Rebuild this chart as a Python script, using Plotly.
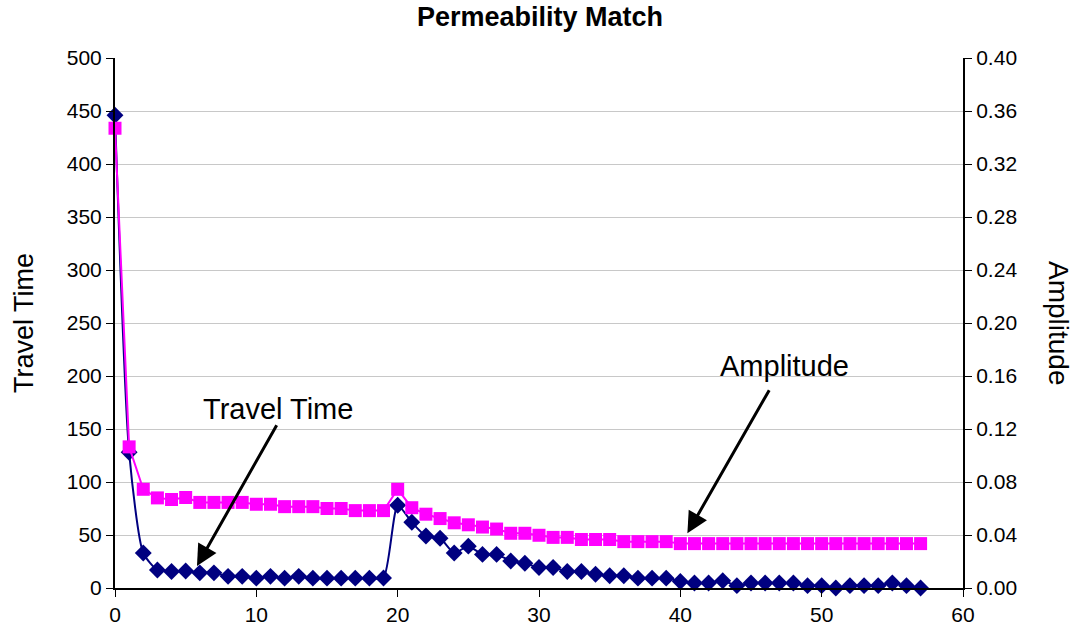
import plotly.graph_objects as go

x_vals = list(range(58))
travel_time = [446, 128, 33, 17, 15.5, 16, 14.3, 14.3, 11, 11,
               9.3, 11, 9.3, 11, 9.3, 9.3, 9.3, 9.3, 9.3, 9.5,
               78, 62, 49, 47, 33, 39.5, 31.7, 31.7, 25.5, 23.3,
               19.3, 19.3, 15.5, 15.5, 13, 11.5, 11.5, 9.3, 9.3, 9.3,
               6.2, 4.7, 4.7, 6.8, 2.2, 4.7, 4.7, 4.7, 4.7, 2.2,
               2.2, 0, 2.2, 2.2, 2.2, 4.7, 2.2, 0]
amplitude = [0.347, 0.1065, 0.0745, 0.068, 0.0668, 0.0683, 0.0646, 0.0646, 0.0646, 0.0646,
             0.0632, 0.0632, 0.0614, 0.0614, 0.0614, 0.060, 0.060, 0.0584, 0.0584, 0.0584,
             0.0745, 0.0606, 0.0557, 0.0524, 0.0492, 0.0477, 0.046, 0.0445, 0.0413, 0.0413,
             0.0398, 0.0382, 0.0382, 0.0366, 0.0366, 0.0366, 0.035, 0.035, 0.035, 0.035,
             0.0335, 0.0335, 0.0335, 0.0335, 0.0335, 0.0335, 0.0335, 0.0335, 0.0335, 0.0335,
             0.0335, 0.0335, 0.0335, 0.0335, 0.0335, 0.0335, 0.0335, 0.0335]

left_ticks = list(range(0, 501, 50))
right_ticks = [0.0, 0.04, 0.08, 0.12, 0.16, 0.20, 0.24, 0.28, 0.32, 0.36, 0.40]
x_ticks = list(range(0, 61, 10))

FONT = "Liberation Sans, Arial, sans-serif"

fig = go.Figure()
fig.add_trace(go.Scatter(
    x=x_vals, y=amplitude, yaxis="y2", mode="lines+markers",
    line=dict(color="#FF00FF", width=2),
    marker=dict(symbol="square", size=13, color="#FF00FF"),
    cliponaxis=False, name="Amplitude", showlegend=False))
fig.add_trace(go.Scatter(
    x=x_vals, y=travel_time, mode="lines+markers",
    line=dict(color="#000080", width=2, shape="spline", smoothing=0.6),
    marker=dict(symbol="diamond", size=13, color="#000080"),
    cliponaxis=False, name="Travel Time", showlegend=False))

fig.update_layout(
    width=1080, height=638,
    margin=dict(l=115, r=117, t=58, b=48),
    paper_bgcolor="white", plot_bgcolor="white",
    font=dict(family=FONT, color="black", size=21),
    title=dict(text="<b>Permeability Match</b>", x=0.5, xanchor="center",
               y=1 - 17 / 638, yanchor="middle", font=dict(size=27, family=FONT)),
    xaxis=dict(range=[0, 60], tickvals=x_ticks, showgrid=False,
               showline=True, linecolor="black", linewidth=2,
               ticks="outside", ticklen=7, tickcolor="black",
               tickfont=dict(size=21), zeroline=False),
    yaxis=dict(range=[0, 500], tickvals=left_ticks, showgrid=True,
               gridcolor="#C8C8C8", gridwidth=1,
               showline=True, linecolor="black", linewidth=2,
               ticks="outside", ticklen=7, tickcolor="black",
               tickfont=dict(size=21), zeroline=False,
               title=dict(text="Travel Time", font=dict(size=27), standoff=25)),
    yaxis2=dict(range=[0, 0.40], tickvals=right_ticks, tickformat=".2f",
                overlaying="y", side="right", showgrid=False,
                showline=True, linecolor="black", linewidth=2,
                ticks="outside", ticklen=7, tickcolor="black",
                tickfont=dict(size=21), zeroline=False),
)

fig.add_annotation(x=(1059 - 115) / (1080 - 115 - 117), y=(590 - 324) / 532,
                   xref="paper", yref="paper", xanchor="center", yanchor="middle",
                   text="Amplitude", textangle=90, showarrow=False, font=dict(size=28))

# Travel Time label and arrow
fig.add_annotation(x=11.5, y=169, xref="x", yref="y", text="Travel Time",
                   showarrow=False, font=dict(size=29))
fig.add_annotation(x=5.8, y=20.7, xref="x", yref="y", ax=11.5, ay=155,
                   axref="x", ayref="y", text="", showarrow=True,
                   arrowhead=2, arrowsize=1.4, arrowwidth=3, arrowcolor="black")
# Amplitude label and arrow
fig.add_annotation(x=47.4, y=209.6, xref="x", yref="y", text="Amplitude",
                   showarrow=False, font=dict(size=29))
fig.add_annotation(x=40.5, y=51.7, xref="x", yref="y", ax=46.35, ay=188,
                   axref="x", ayref="y", text="", showarrow=True,
                   arrowhead=2, arrowsize=1.4, arrowwidth=3, arrowcolor="black")

fig.write_html("out.html")
